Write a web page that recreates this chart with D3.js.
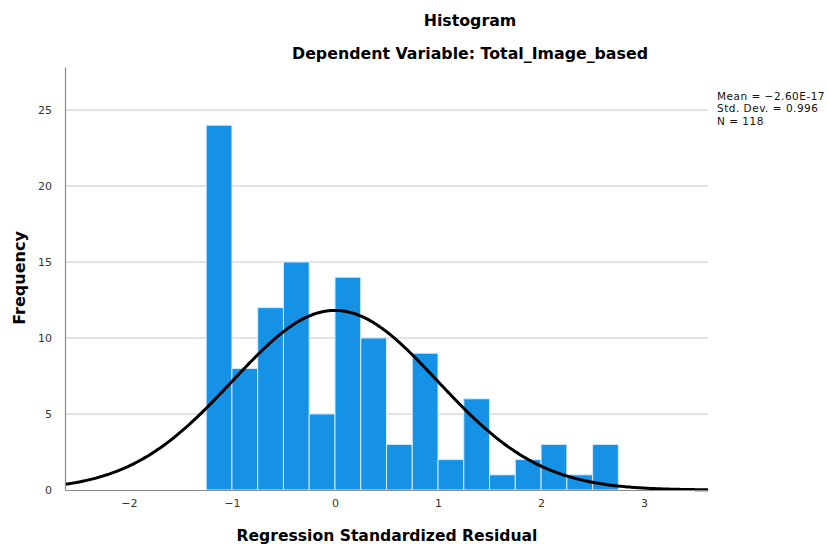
<!DOCTYPE html>
<html><head><meta charset="utf-8">
<script src="https://cdn.jsdelivr.net/npm/d3@7"></script>
<style>body{margin:0;background:#fff}svg{display:block}</style>
</head><body>
<svg id="c" width="827" height="544"></svg>
<script>
const binStarts = [-1.25,-1.0,-0.75,-0.5,-0.25,0,0.25,0.5,0.75,1.0,1.25,1.5,1.75,2.0,2.25,2.5];
const frequencies = [24,8,12,15,5,14,10,3,9,2,6,1,2,3,1,3];
const binWidth = 0.25;
const xTicks = [-2,-1,0,1,2,3];
const yTicks = [0,5,10,15,20,25];
const meanVal = -2.60e-17, sdVal = 0.996, nVal = 118;
const legendLines = ["Mean = -2.60E-17","Std. Dev. = 0.996","N = 118"];

const svg = d3.select("#c");
const font = "'DejaVu Sans', 'Liberation Sans', sans-serif";
const L = 65, R = 708, T = 67, B = 490;
const x = d3.scaleLinear().domain([-2.62, 3.62]).range([L, R]);
const y = d3.scaleLinear().domain([0, 27.83]).range([B, T]);

// gridlines
svg.append("g").selectAll("line").data(yTicks.filter(d=>d>0)).join("line")
  .attr("x1", L).attr("x2", R).attr("y1", d=>y(d)).attr("y2", d=>y(d))
  .attr("stroke", "#c8c8c8").attr("stroke-width", 1);

// bars
svg.append("g").selectAll("rect").data(frequencies).join("rect")
  .attr("x", (d,i)=>x(binStarts[i]))
  .attr("width", (d,i)=>x(binStarts[i]+binWidth)-x(binStarts[i]))
  .attr("y", d=>y(d)).attr("height", d=>B-y(d))
  .attr("fill", "#1591e6").attr("stroke", "#d8ecfb").attr("stroke-width", 1);

// normal curve
const pts = d3.range(-2.62, 3.6201, 0.02);
const pdf = v => nVal*binWidth/(sdVal*Math.sqrt(2*Math.PI))*Math.exp(-0.5*((v-meanVal)/sdVal)**2);
svg.append("path").datum(pts)
  .attr("d", d3.line().x(d=>x(d)).y(d=>y(pdf(d))).curve(d3.curveBasis))
  .attr("fill", "none").attr("stroke", "#000").attr("stroke-width", 3);

// axes
const xa = svg.append("g").attr("transform", `translate(0,${B})`)
  .call(d3.axisBottom(x).tickValues(xTicks).tickSize(0).tickPadding(9).tickFormat(d=>d<0?"\u2212"+Math.abs(d):d));
const ya = svg.append("g").attr("transform", `translate(${L},0)`)
  .call(d3.axisLeft(y).tickValues(yTicks).tickSize(0).tickPadding(13));
[xa, ya].forEach(a=>{
  a.select(".domain").attr("stroke", "#8a8a8a").attr("stroke-width", 1.2);
  a.selectAll("text").attr("font-family", font).attr("font-size", 11).attr("fill", "#333");
});

// titles
svg.append("text").attr("x", 470).attr("y", 26).attr("text-anchor", "middle")
  .attr("font-family", font).attr("font-weight", "bold").attr("font-size", 15.8).text("Histogram");
svg.append("text").attr("x", 470).attr("y", 59).attr("text-anchor", "middle")
  .attr("font-family", font).attr("font-weight", "bold").attr("font-size", 15.8).text("Dependent Variable: Total_Image_based");
svg.append("text").attr("x", 387).attr("y", 541).attr("text-anchor", "middle")
  .attr("font-family", font).attr("font-weight", "bold").attr("font-size", 15.6).text("Regression Standardized Residual");
svg.append("text").attr("transform", "translate(25,278) rotate(-90)").attr("text-anchor", "middle")
  .attr("font-family", font).attr("font-weight", "bold").attr("font-size", 16).text("Frequency");

// legend
svg.append("g").selectAll("text").data(legendLines).join("text")
  .attr("x", 717).attr("y", (d,i)=>100+i*12.3)
  .attr("font-family", font).attr("font-size", 10.5).attr("letter-spacing", 0.5)
  .attr("fill", "#111").text(d=>d.replace("-", "\u2212"));
</script>
</body></html>
